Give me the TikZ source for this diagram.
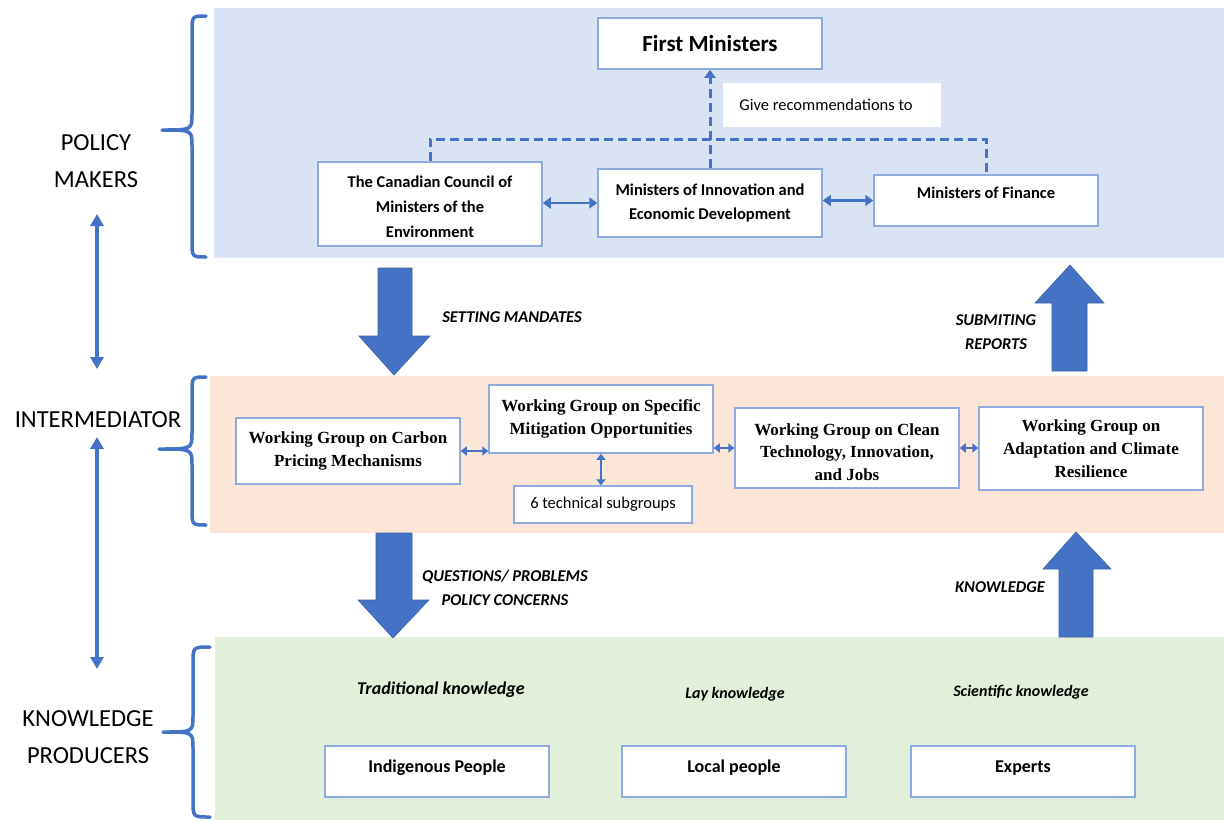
\documentclass[tikz,border=0pt]{standalone}
\usepackage{fontspec}
\setmainfont{Carlito}
\newfontfamily\tnr{Liberation Serif}
\usetikzlibrary{arrows.meta}
\definecolor{bandblue}{HTML}{DAE3F3}
\definecolor{bandpeach}{HTML}{FBE5D6}
\definecolor{bandgreen}{HTML}{E2EFDA}
\definecolor{arrowblue}{HTML}{4472C4}
\definecolor{boxedge}{HTML}{8FAADC}
\begin{document}
\begin{tikzpicture}[x=1pt,y=-1pt,
  box/.style={draw=boxedge, line width=1.5pt, fill=white, inner sep=0pt, align=center,
    font=\bfseries\fontsize{16.5}{24.5}\selectfont},
  wg/.style={box, font=\tnr\bfseries\fontsize{17}{23.5}\selectfont},
  kbox/.style={box, minimum width=224pt, minimum height=51pt, text depth=10pt, font=\bfseries\fontsize{18}{22}\selectfont},
  dbl/.style={draw=arrowblue, line width=2.8pt, {Triangle[width=11pt,length=8pt]}-{Triangle[width=11pt,length=8pt]}},
  sdbl/.style={draw=arrowblue, line width=2.5pt, {Triangle[width=9pt,length=6pt]}-{Triangle[width=9pt,length=6pt]}},
  odbl/.style={draw=arrowblue, line width=3.2pt, {Triangle[width=13pt,length=12pt]}-{Triangle[width=13pt,length=12pt]}},
  dashline/.style={draw=arrowblue, line width=3pt, dash pattern=on 9pt off 5pt},
  bigarrow/.style={fill=arrowblue, draw=arrowblue!85!black, line width=0.6pt},
  flowlabel/.style={font=\bfseries\itshape\fontsize{16.5}{24}\selectfont, align=center},
  klabel/.style={font=\bfseries\itshape\fontsize{16}{20}\selectfont},
  level/.style={font=\fontsize{24.5}{37}\selectfont, align=center},
  bracestyle/.style={draw=arrowblue, line width=3.5pt, line cap=round, line join=round}
]
\useasboundingbox (0,0) rectangle (1224,820);
\fill[white] (0,0) rectangle (1224,820);

% bands
\fill[bandblue] (214,8) rectangle (1224,258);
\fill[bandpeach] (210,376) rectangle (1224,533);
\fill[bandgreen] (215,637) rectangle (1224,820);

% braces
\draw[bracestyle] (206,16) .. controls (192,16) .. (192,32) -- (192,114) .. controls (192,130) .. (162,130)
  .. controls (192,130) .. (192,146) -- (192,241) .. controls (192,257) .. (206,257);
\draw[bracestyle] (206,377) .. controls (192,377) .. (192,393) -- (192,433) .. controls (192,449) .. (159,449)
  .. controls (192,449) .. (192,465) -- (192,509) .. controls (192,525) .. (206,525);
\draw[bracestyle] (210,647) .. controls (193,647) .. (193,663) -- (193,716) .. controls (193,732) .. (163,732)
  .. controls (193,732) .. (193,748) -- (193,801) .. controls (193,817) .. (210,817);

% level labels
\node[level] (pm) at (96,161) {POLICY\\MAKERS};
\node[level] (im) at (98,420) {INTERMEDIATOR};
\node[level] (kp) at (88,737) {KNOWLEDGE\\PRODUCERS};
\coordinate (o1) at (97,214);
\coordinate (o2) at (97,369);
\coordinate (o3) at (97,437);
\coordinate (o4) at (97,669);
\draw[odbl] (o1) -- (o2);
\draw[odbl] (o3) -- (o4);

% policy makers
\node[box, minimum width=224pt, minimum height=51pt, font=\bfseries\fontsize{23}{26}\selectfont] (fm) at (710,43.5) {First Ministers};
\node[fill=white, inner sep=0pt, minimum width=218pt, minimum height=44pt, font=\fontsize{16.5}{20}\selectfont] (give) at (832,105) {Give recommendations to\hspace*{12pt}};
\node[box, minimum width=224pt, minimum height=84pt, font=\bfseries\fontsize{16.5}{25}\selectfont] (ccme) at (430,204) {\rule{0pt}{17pt}The Canadian Council of\\Ministers of the\\Environment};
\node[box, minimum width=224pt, minimum height=68pt] (innov) at (710,203) {Ministers of Innovation and\\Economic Development};
\node[box, minimum width=224pt, minimum height=51pt, text depth=15pt] (fin) at (986,200.5) {Ministers of Finance};

\coordinate (dj) at (713,139);
\draw[dashline] (ccme.north) |- (dj) -| (fin.north);
\draw[dashline, -{Triangle[width=11pt,length=8pt]}] (innov.north) -- (fm.south);
\draw[dbl] (ccme.east |- innov.west) -- (innov.west);
\draw[dbl] (innov.east |- fin.west) -- (fin.west);

% big arrows
\draw[bigarrow] (378,268) -- (412,268) -- (412,336) -- (430,336) -- (394,375) -- (359,336) -- (378,336) -- cycle;
\draw[bigarrow] (1052,371) -- (1087,371) -- (1087,303) -- (1104,303) -- (1070,265) -- (1035,303) -- (1052,303) -- cycle;
\draw[bigarrow] (376,533) -- (412,533) -- (412,600) -- (429,600) -- (393,638) -- (358,600) -- (376,600) -- cycle;
\draw[bigarrow] (1059,637) -- (1093,637) -- (1093,569) -- (1111,569) -- (1076,532) -- (1043,569) -- (1059,569) -- cycle;
\node[flowlabel] (lset) at (512,317) {SETTING MANDATES};
\node[flowlabel] (lsub) at (996,332) {SUBMITING\\REPORTS};
\node[flowlabel] (lque) at (505,588) {QUESTIONS/ PROBLEMS\\POLICY CONCERNS};
\node[flowlabel] (lkno) at (1000,587) {KNOWLEDGE};

% intermediator
\node[wg, minimum width=224pt, minimum height=66pt] (carbon) at (348,451) {Working Group on Carbon\\Pricing Mechanisms};
\node[wg, minimum width=224pt, minimum height=68pt] (mitig) at (601,419) {Working Group on Specific\\Mitigation Opportunities};
\node[box, minimum width=178pt, minimum height=37pt, font=\fontsize{16.5}{20}\selectfont] (sub) at (603,504.5) {6 technical subgroups};
\node[wg, minimum width=224pt, minimum height=80pt, font=\tnr\bfseries\fontsize{17}{22.5}\selectfont] (clean) at (847,448) {\rule{0pt}{20pt}Working Group on Clean\\Technology, Innovation,\\and Jobs};
\node[wg, minimum width=224pt, minimum height=83pt, font=\tnr\bfseries\fontsize{17}{23}\selectfont] (adapt) at (1091,448.5) {Working Group on\\Adaptation and Climate\\Resilience};
\draw[sdbl] (carbon.east) -- (carbon.east -| mitig.west);
\draw[sdbl] (clean.west -| mitig.east) -- (clean.west);
\draw[sdbl] (clean.east) -- (clean.east -| adapt.west);
\draw[sdbl] (mitig.south) -- (mitig.south |- sub.north);

% knowledge producers
\node[klabel, font=\bfseries\itshape\fontsize{18}{20}\selectfont] (trad) at (441,690) {Traditional knowledge};
\node[klabel] (lay) at (735,694) {Lay knowledge};
\node[klabel] (sci) at (1021,692) {Scientific knowledge};
\node[kbox] (indig) at (437,771.5) {Indigenous People};
\node[kbox] (local) at (734,771.5) {Local people};
\node[kbox] (exp) at (1023,771.5) {Experts};
\end{tikzpicture}
\end{document}
